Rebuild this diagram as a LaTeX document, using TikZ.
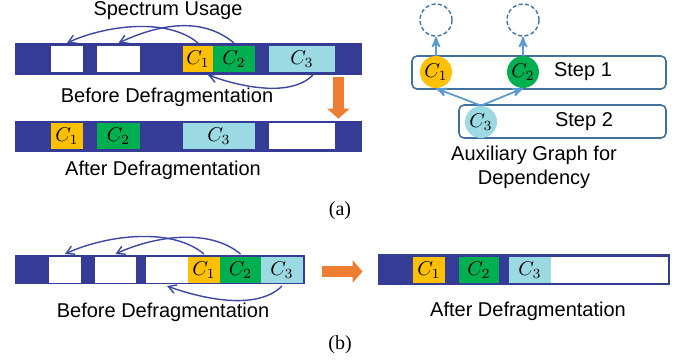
\documentclass[tikz,border=0pt]{standalone}
\usepackage{fontspec}
\setmainfont{Liberation Sans}
\newfontfamily\labelfont{Liberation Serif}
\usetikzlibrary{arrows,arrows.meta}

\definecolor{barblue}{RGB}{53,60,150}
\definecolor{curveblue}{RGB}{62,70,165}
\definecolor{cone}{RGB}{255,192,0}
\definecolor{ctwo}{RGB}{0,176,80}
\definecolor{cthree}{RGB}{155,217,227}
\definecolor{moveorange}{RGB}{237,125,49}
\definecolor{boxblue}{RGB}{65,113,156}
\definecolor{linkblue}{RGB}{91,155,213}

\begin{document}
\begin{tikzpicture}[x=0.5pt,y=0.5pt,>=angle 60,
  bar/.style={rectangle,fill=barblue,inner sep=0pt,minimum height=16pt},
  slot/.style={rectangle,fill=white,inner sep=0pt,outer ysep=1.5pt,minimum height=13pt},
  hop/.style={->,curveblue,line width=0.7pt},
  fatarrow/.style={line width=5.5pt,moveorange,-{Triangle[length=5pt,width=11pt]}},
  chan/.style={circle,inner sep=0pt,minimum size=16pt},
  ghost/.style={chan,draw=boxblue,dash pattern=on 2pt off 1.2pt,line width=0.7pt},
  stepbox/.style={rectangle,draw=boxblue,line width=0.8pt,rounded corners=2.5pt,inner sep=0pt,minimum height=16.5pt},
  deparrow/.style={->,>=stealth',linkblue,line width=0.9pt}]
  \useasboundingbox (0,0) rectangle (684,-361);

  % (a) spectrum before and after
  \node[bar,minimum width=173.5pt] (barA) at (188.5,-59) {};
  \node[slot,minimum width=16pt] (aw1) at (67,-59) {};
  \node[slot,minimum width=21.5pt] (aw2) at (118.5,-59) {};
  \node[slot,fill=cone,minimum width=15pt] (ac1) at (198,-59) {$C_1$};
  \node[slot,fill=ctwo,minimum width=21pt] (ac2) at (234,-59) {$C_2$};
  \node[slot,fill=cthree,minimum width=33pt] (ac3) at (302,-59) {$C_3$};

  \node[bar,minimum width=173.5pt,minimum height=15.5pt] (barB) at (188.5,-136.5) {};
  \node[slot,fill=cone,minimum width=16pt] (bc1) at (67,-136) {$C_1$};
  \node[slot,fill=ctwo,minimum width=21.5pt] (bc2) at (118.5,-136) {$C_2$};
  \node[slot,fill=cthree,minimum width=36pt] (bc3) at (219,-136) {$C_3$};
  \node[slot,minimum width=33pt] (bw1) at (302,-136) {};

  \node (usage) at (168,-11) {Spectrum Usage};
  \node (beforeA) at (167,-97) {Before Defragmentation};
  \node (afterA) at (163,-170) {After Defragmentation};

  \path[hop]
    (ac1.north) edge[out=140,in=25,looseness=0.8] (aw1.north)
    (ac2.north) edge[out=140,in=25,looseness=0.95] (aw2.north)
    ([xshift=5.5pt]ac3.south) edge[out=-135,in=-20,looseness=0.8] ([xshift=5pt]ac1.south);
  \draw[fatarrow] ([xshift=-12pt,yshift=-1pt]barA.south east) -- ([xshift=-12pt,yshift=1pt]barB.north east);

  % auxiliary graph
  \node[stepbox,minimum width=127pt] (step1) at (539,-72.5) {};
  \node[stepbox,minimum width=103.5pt] (step2) at (562.5,-121.5) {};
  \node[chan,fill=cone] (g1) at (436,-72) {$C_1$};
  \node[chan,fill=ctwo] (g2) at (523,-72) {$C_2$};
  \node[chan,fill=cthree] (g3) at (481,-122) {$C_3$};
  \node (s1) at (583,-72) {Step 1};
  \node (s2) at (584,-122) {Step 2};
  \node[ghost] (d1) at (436,-20) {};
  \node[ghost] (d2) at (523,-20) {};
  \node[align=center] (auxlabel) at (534,-167) {Auxiliary Graph for\\Dependency};
  \path[deparrow]
    (g1) edge (d1)
    (g2) edge (d2)
    (g3.north) edge (g1.south)
    (g3.north) edge (g2.south);

  \node (capa) at (340,-211) {\labelfont (a)};

  % (b) spectrum before and after
  \node[bar,minimum width=145pt,minimum height=14.5pt] (barC) at (160,-269.5) {};
  \node[slot,minimum width=16pt] (cw1) at (65,-270) {};
  \node[slot,minimum width=20.5pt] (cw2) at (115.5,-270) {};
  \node[slot,minimum width=21pt] (cw3) at (167,-270) {};
  \node[slot,fill=cone,minimum width=16pt] (cc1) at (204,-270) {$C_1$};
  \node[slot,fill=ctwo,minimum width=20.5pt] (cc2) at (240.5,-270) {$C_2$};
  \node[slot,fill=cthree,minimum width=21pt] (cc3) at (282,-270) {$C_3$};

  \node[bar,minimum width=146pt,minimum height=15.5pt] (barD) at (524,-269.5) {};
  \node[slot,fill=cone,minimum width=16pt] (dc1) at (429,-270) {$C_1$};
  \node[slot,fill=ctwo,minimum width=20pt] (dc2) at (479,-270) {$C_2$};
  \node[slot,fill=cthree,minimum width=21pt] (dc3) at (530,-270) {$C_3$};
  \node[slot,minimum width=58.5pt] (dw1) at (609.5,-270) {};

  \node (beforeB) at (163,-312) {Before Defragmentation};
  \node (afterB) at (528,-311) {After Defragmentation};

  \path[hop]
    (cc1.north) edge[out=140,in=25,looseness=0.8] (cw1.north)
    (cc2.north) edge[out=140,in=25,looseness=0.85] (cw2.north)
    (cc3.south) edge[out=-135,in=-20,looseness=0.8] (cw3.south);
  \draw[fatarrow] ([xshift=8.5pt,yshift=-1pt]barC.east) -- ([xshift=-7.5pt,yshift=-1pt]barD.west);

  \node (capb) at (340,-345) {\labelfont (b)};
\end{tikzpicture}
\end{document}
